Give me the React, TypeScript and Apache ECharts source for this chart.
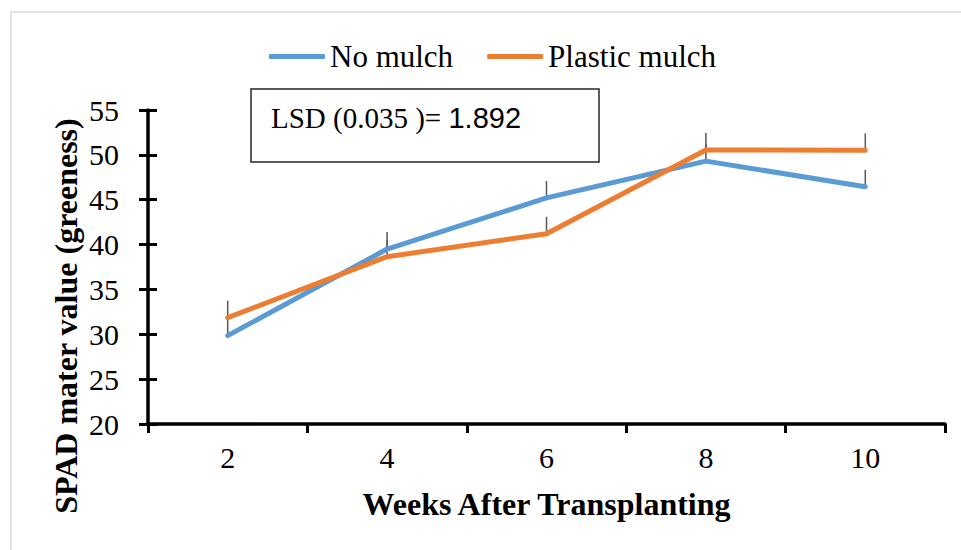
import React, { useEffect, useRef } from "react";
import * as echarts from "echarts";

const weeks = ["2", "4", "6", "8", "10"];
const noMulch = [29.85, 39.5, 45.2, 49.3, 46.45];
const plasticMulch = [31.85, 38.65, 41.2, 50.55, 50.5];
const lsd = 1.892;
const yTicks = { min: 20, max: 55, interval: 5 };

const SERIF = "Liberation Serif";
const SANS = "Liberation Sans";
const BLUE = "#5B9BD5";
const ORANGE = "#ED7D31";

function errorBarSeries(values: number[], name: string) {
  return {
    type: "custom",
    name,
    z: 1,
    silent: true,
    data: values.map((v, i) => [i, v, v + lsd]),
    renderItem: (params: any, api: any) => {
      const top = api.coord([api.value(0), api.value(2)]);
      const bottom = api.coord([api.value(0), api.value(1)]);
      return {
        type: "line",
        shape: { x1: bottom[0], y1: bottom[1], x2: top[0], y2: top[1] },
        style: { stroke: "#595959", lineWidth: 1.5 },
      };
    },
  };
}

export default function App() {
  const ref = useRef<HTMLDivElement>(null);

  useEffect(() => {
    if (!ref.current) return;
    const chart = echarts.init(ref.current, null, { renderer: "svg" });
    chart.setOption({
      animation: false,
      backgroundColor: "#ffffff",
      textStyle: { fontFamily: SERIF, color: "#000" },
      grid: { left: 148, right: 16, top: 110, bottom: 126 },
      legend: {
        data: ["No mulch", "Plastic mulch"],
        left: 264,
        top: 36,
        icon: "roundRect",
        itemWidth: 56,
        itemHeight: 5,
        itemGap: 34,
        textStyle: { fontFamily: SERIF, fontSize: 31, color: "#000" },
      },
      xAxis: {
        type: "category",
        data: weeks,
        boundaryGap: true,
        axisLine: { lineStyle: { color: "#000", width: 3.5 } },
        axisTick: { show: true, length: 9, lineStyle: { color: "#000", width: 3 } },
        axisLabel: { fontFamily: SERIF, fontSize: 30, color: "#000", margin: 18 },
        name: "Weeks After Transplanting",
        nameLocation: "middle",
        nameGap: 64,
        nameTextStyle: { fontFamily: SERIF, fontSize: 32, fontWeight: "bold", color: "#000" },
      },
      yAxis: [
        {
          type: "value",
          ...yTicks,
          splitLine: { show: false },
          axisLine: { show: true, lineStyle: { color: "#000", width: 3.5 } },
          axisTick: { show: true, length: 9, lineStyle: { color: "#000", width: 3 } },
          axisLabel: { fontFamily: SERIF, fontSize: 30, color: "#000", margin: 29 },
        },
        {
          type: "value",
          position: "left",
          ...yTicks,
          splitLine: { show: false },
          axisLine: { show: false },
          axisTick: { show: true, inside: true, length: 9, lineStyle: { color: "#000", width: 3 } },
          axisLabel: { show: false },
        },
      ],
      series: [
        errorBarSeries(noMulch, "noMulchLsd"),
        errorBarSeries(plasticMulch, "plasticLsd"),
        {
          name: "No mulch",
          type: "line",
          data: noMulch,
          z: 3,
          showSymbol: false,
          symbol: "none",
          itemStyle: { color: BLUE },
          lineStyle: { color: BLUE, width: 5, cap: "round", join: "round" },
        },
        {
          name: "Plastic mulch",
          type: "line",
          data: plasticMulch,
          z: 4,
          showSymbol: false,
          symbol: "none",
          itemStyle: { color: ORANGE },
          lineStyle: { color: ORANGE, width: 5, cap: "round", join: "round" },
        },
      ],
      graphic: [
        {
          type: "rect",
          shape: { x: 11, y: 12, width: 970, height: 560 },
          style: { fill: "none", stroke: "#d9d9d9", lineWidth: 1.5 },
          silent: true,
          z: 0,
        },
        {
          type: "text",
          x: 66,
          y: 316,
          rotation: Math.PI / 2,
          z: 10,
          style: {
            text: "SPAD mater value (greeness)",
            fontFamily: SERIF,
            fontSize: 32,
            fontWeight: "bold",
            fill: "#000",
            align: "center",
            verticalAlign: "middle",
          },
        },
        {
          type: "rect",
          shape: { x: 251, y: 89, width: 348, height: 73 },
          style: { fill: "#fff", stroke: "#262626", lineWidth: 1.5 },
          z: 10,
        },
        {
          type: "text",
          x: 271,
          y: 118,
          z: 11,
          style: {
            text: "{a|LSD (0.035 )= }{b|1.892}",
            fontFamily: SERIF,
            fontSize: 29,
            verticalAlign: "middle",
            rich: {
              a: { fontFamily: SERIF, fontSize: 29, fill: "#000" },
              b: { fontFamily: SANS, fontSize: 29, fill: "#000" },
            },
          },
        },
      ],
    });
    return () => chart.dispose();
  }, []);

  return (
    <div
      ref={ref}
      style={{ position: "fixed", left: 0, top: 0, width: 961, height: 550, background: "#fff" }}
    />
  );
}
